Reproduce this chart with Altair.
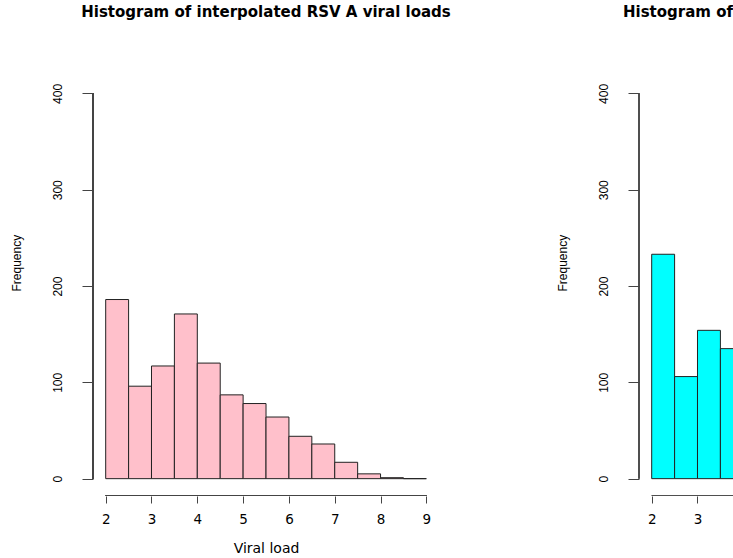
import altair as alt
import pandas as pd

# ---- data ----
bin_width = 0.5
a_starts = [2.0, 2.5, 3.0, 3.5, 4.0, 4.5, 5.0, 5.5, 6.0, 6.5, 7.0, 7.5, 8.0, 8.5]
a_counts = [186, 96, 117, 171, 120, 87, 78, 64, 44, 36, 17, 5, 1, 0]
b_starts = [2.0, 2.5, 3.0, 3.5]
b_counts = [233, 106, 154, 135]
a_xticks = [2, 3, 4, 5, 6, 7, 8, 9]
b_xticks = [2, 3]
y_ticks = [0, 100, 200, 300, 400]
title_a = "Histogram of interpolated RSV A viral loads"
title_b = "Histogram of"
x_title = "Viral load"
y_title = "Frequency"

X_MIN = 1.723
PX_PER_UNIT = 45.81
Y_DOM = [-18, 416]
H = 418
W_A = 346
W_B = 94
AXIS_COL = "#444"


def panel(starts, counts, fill, title, xticks, width, show_xtitle, anchor):
    df = pd.DataFrame({
        "start": starts,
        "end": [s + bin_width for s in starts],
        "count": counts,
    })
    xmax = X_MIN + width / PX_PER_UNIT
    xs = alt.Scale(domain=[X_MIN, xmax], nice=False, zero=False)
    ys = alt.Scale(domain=Y_DOM, nice=False, zero=False)
    xaxis = alt.Axis(
        values=xticks, domain=False, grid=False, tickSize=7, tickColor=AXIS_COL,
        tickWidth=1, labelFont="DejaVu Sans", labelFontSize=13.5, labelColor="black",
        labelPadding=20.3, labelBaseline="alphabetic", labelFlush=False,
        labelOverlap=False, format="d",
        title=x_title if show_xtitle else None,
        titleFont="DejaVu Sans", titleFontSize=14, titleFontWeight="normal",
        titleColor="black", titleY=56.6, titleBaseline="alphabetic",
    )
    yaxis = alt.Axis(
        values=y_ticks, domain=False, grid=False, tickSize=11, tickColor=AXIS_COL,
        tickWidth=1, labelFont="Liberation Sans", labelFontSize=12,
        labelColor="black", labelAngle=-90, labelAlign="center",
        labelBaseline="alphabetic", labelPadding=20.6, labelOverlap=False,
        title=y_title, titleFont="Liberation Sans", titleFontSize=12,
        titleFontWeight="normal", titleColor="black", titleAngle=270,
        titleX=-73, titleY=184.7, titleAlign="center", titleBaseline="alphabetic",
    )
    bars = alt.Chart(df).mark_rect(
        fill=fill, stroke="#222", strokeWidth=1, clip=True
    ).encode(
        x=alt.X("start:Q", scale=xs, axis=xaxis),
        x2="end:Q",
        y=alt.Y("count:Q", scale=ys, axis=yaxis),
        y2=alt.datum(0),
    )
    xline = alt.Chart(df).mark_rule(color=AXIS_COL, strokeWidth=1, clip=True).encode(
        x=alt.datum(xticks[0]),
        x2=alt.datum(a_xticks[-1]),
        y=alt.datum(Y_DOM[0]),
    )
    yline = alt.Chart(df).mark_rule(color=AXIS_COL, strokeWidth=1).encode(
        x=alt.datum(X_MIN),
        y=alt.datum(y_ticks[0]),
        y2=alt.datum(y_ticks[-1]),
    )
    return alt.layer(bars, xline, yline).properties(
        width=width, height=H,
        title=alt.TitleParams(
            title, anchor=anchor, frame="group", font="DejaVu Sans", fontSize=15,
            fontWeight="bold", color="black", baseline="alphabetic", offset=46,
        ),
    )


left = panel(a_starts, a_counts, "#FFC0CB", title_a, a_xticks, W_A, True, "middle")
right = panel(b_starts, b_counts, "#00FFFF", title_b, b_xticks, W_B, False, "end")

chart = alt.hconcat(left, right, spacing=200, bounds="flush").properties(
    padding={"left": 10, "top": 5, "right": 0, "bottom": 0},
    background="white",
).configure_view(stroke=None)

chart.save("out.html", embed_options={"renderer": "svg", "actions": False})
